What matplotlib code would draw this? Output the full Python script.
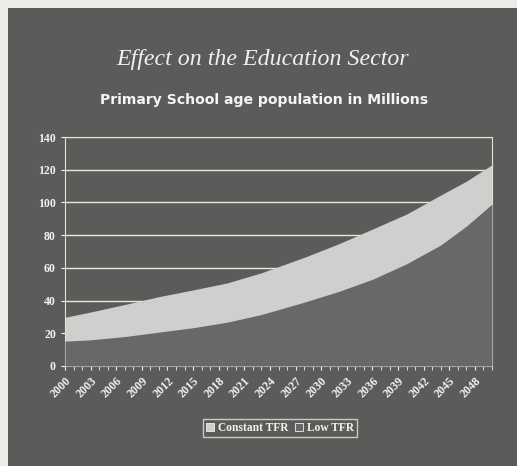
import numpy as np
import matplotlib; matplotlib.use("Agg")
import matplotlib.pyplot as plt
from matplotlib.patches import Rectangle

# primary school age population (millions)
years = [2000, 2003, 2007, 2011, 2015, 2019, 2023, 2028, 2032, 2036, 2040, 2044, 2047, 2050]
constant_tfr = [29.8, 33, 37.6, 42.4, 46.5, 50.8, 57, 66.4, 74.6, 83.7, 92.9, 104.5, 113, 123]
low_tfr = [15.2, 16, 18, 20.7, 23.4, 26.8, 31.5, 39, 45.5, 53, 62.5, 74, 85.5, 99]
tick_years = list(range(2000, 2049, 3))
yticks = [0, 20, 40, 60, 80, 100, 120, 140]

BG = "#5c5b59"
fig = plt.figure(figsize=(5.17, 4.66), dpi=100, facecolor="#ecebe8")
fig.patches.append(Rectangle((8/517, 0), 1, 1-8/466, transform=fig.transFigure,
                             facecolor=BG, edgecolor="none", zorder=-5))
ax = fig.add_axes([65/517, 1-366/466, 427/517, 229/466])
ax.set_facecolor(BG)

ax.fill_between(years, 0, constant_tfr, color="#cfcfcd", lw=0, label="Constant TFR", zorder=2)
ax.fill_between(years, 0, low_tfr, color="#67686a", lw=0, label="Low TFR", zorder=3)

ax.set_xlim(2000, 2050); ax.set_ylim(0, 140)
ax.set_yticks(yticks)
ax.set_xticks(tick_years)
ax.set_xticks(range(2000, 2051), minor=True)
ax.grid(axis="y", color="#e6e6e2", lw=1, zorder=1)
for s in ax.spines.values():
    s.set_color("#e0e0dc"); s.set_linewidth(0.8)
ax.tick_params(axis="both", colors="#f2f2f0", length=3, width=0.8)
ax.tick_params(axis="x", which="minor", colors="#f2f2f0", length=3, width=0.6)
for lab in ax.get_yticklabels():
    lab.set_fontfamily("Liberation Serif"); lab.set_fontweight("bold"); lab.set_fontsize(8.5)
    lab.set_color("#f2f2f0")
ax.set_xticklabels([str(y) for y in tick_years], rotation=45, ha="right", va="top",
                   rotation_mode="anchor", fontfamily="Liberation Serif", fontweight="bold",
                   fontsize=8.5, color="#f2f2f0")

fig.text(263/517, 1-60/466, "Effect on the Education Sector", ha="center", va="center",
         fontfamily="Liberation Serif", fontstyle="italic", fontsize=17.2, color="#f0f0ee")
fig.text(264/517, 1-100/466, "Primary School age population in Millions", ha="center",
         va="center", fontfamily="DejaVu Sans", fontweight="bold", fontsize=10.1, color="#f4f4f2")

leg = fig.legend(loc="center", bbox_to_anchor=(280/517, 1-428/466), ncol=2,
                 frameon=True, fancybox=False, handlelength=0.7, handleheight=0.7,
                 handletextpad=0.3, columnspacing=0.6, borderpad=0.3,
                 prop={"family": "Liberation Serif", "weight": "bold", "size": 8.3})
leg.get_frame().set_facecolor(BG); leg.get_frame().set_edgecolor("#e6e6e2")
for t in leg.get_texts():
    t.set_color("#f2f2f0")
for h in leg.legend_handles:
    h.set_edgecolor("#f2f2f0"); h.set_linewidth(0.6)

fig.savefig("out.png", dpi=100, facecolor=fig.get_facecolor())
